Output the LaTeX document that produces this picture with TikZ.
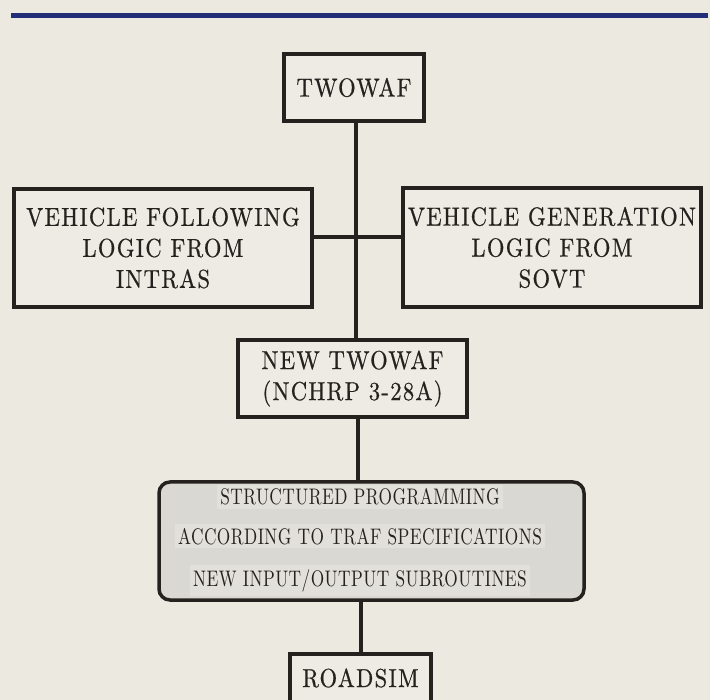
\documentclass[tikz,border=0pt]{standalone}
\usepackage{fontspec}
\newfontfamily\narrowfnt{lmroman10-regular}[Extension=.otf, FakeStretch=0.77, LetterSpace=2]
\newfontfamily\mainfnt{lmroman10-regular}[Extension=.otf, FakeStretch=0.87, LetterSpace=5, FakeBold=0.6]
\definecolor{paper}{HTML}{ECE9E1}
\definecolor{boxfill}{HTML}{EEEBE4}
\definecolor{ink}{HTML}{25211E}
\definecolor{navy}{HTML}{232E78}
\definecolor{shade}{HTML}{DAD8D2}
\definecolor{band}{HTML}{E2E0DA}
\tikzset{
  box/.style={draw=ink, line width=3.5pt, fill=boxfill, inner sep=0pt, align=center,
    text=ink, font=\mainfnt\fontsize{26}{31}\selectfont},
  shadedbox/.style={draw=ink, line width=3.5pt, fill=shade, rounded corners=11pt, inner sep=0pt},
  bandtext/.style={fill=band, inner xsep=3pt, inner ysep=4pt, text=ink,
    font=\narrowfnt\fontsize{22.5}{26}\selectfont, anchor=base},
  link/.style={draw=ink, line width=4.5pt}
}
\begin{document}
\begin{tikzpicture}[x=1pt,y=-1pt]
\useasboundingbox (0,0) rectangle (710,700);
\fill[paper] (0,0) rectangle (710,700);
\draw[navy, line width=5pt] (11,16) -- (708,16);

\coordinate (trunk) at (356,237);
\coordinate (lowtrunk) at (358,450);
\coordinate (btrunk) at (361,630);

\node[box, minimum width=140pt, minimum height=67pt] (twowaf) at (354,87.5) {TWOWAF};
\node[box, minimum width=298pt, minimum height=118pt] (vfl) at (163,248)
  {VEHICLE FOLLOWING\\LOGIC FROM\\INTRAS};
\node[box, minimum width=298pt, minimum height=119pt] (vgl) at (552,247.5)
  {VEHICLE GENERATION\\LOGIC FROM\\SOVT};
\node[box, minimum width=229pt, minimum height=77pt] (newtw) at (352.5,378.5)
  {NEW TWOWAF\\(NCHRP 3-28A)};
\node[shadedbox, minimum width=425pt, minimum height=118pt] (struct) at (371.5,541) {};
\node[bandtext] (s1) at (360,505) {STRUCTURED PROGRAMMING};
\node[bandtext] (s2) at (360,544) {ACCORDING TO TRAF SPECIFICATIONS};
\node[bandtext] (s3) at (360,586) {NEW INPUT/OUTPUT SUBROUTINES};
\node[box, minimum width=141pt, minimum height=48pt] (roadsim) at (360.5,678) {ROADSIM};

\draw[link] (twowaf.south -| trunk) -- (newtw.north -| trunk);
\draw[link] (vfl.east |- trunk) -- (vgl.west |- trunk);
\draw[link] (newtw.south -| lowtrunk) -- (struct.north -| lowtrunk);
\draw[link] (struct.south -| btrunk) -- (roadsim.north -| btrunk);
\end{tikzpicture}
\end{document}
